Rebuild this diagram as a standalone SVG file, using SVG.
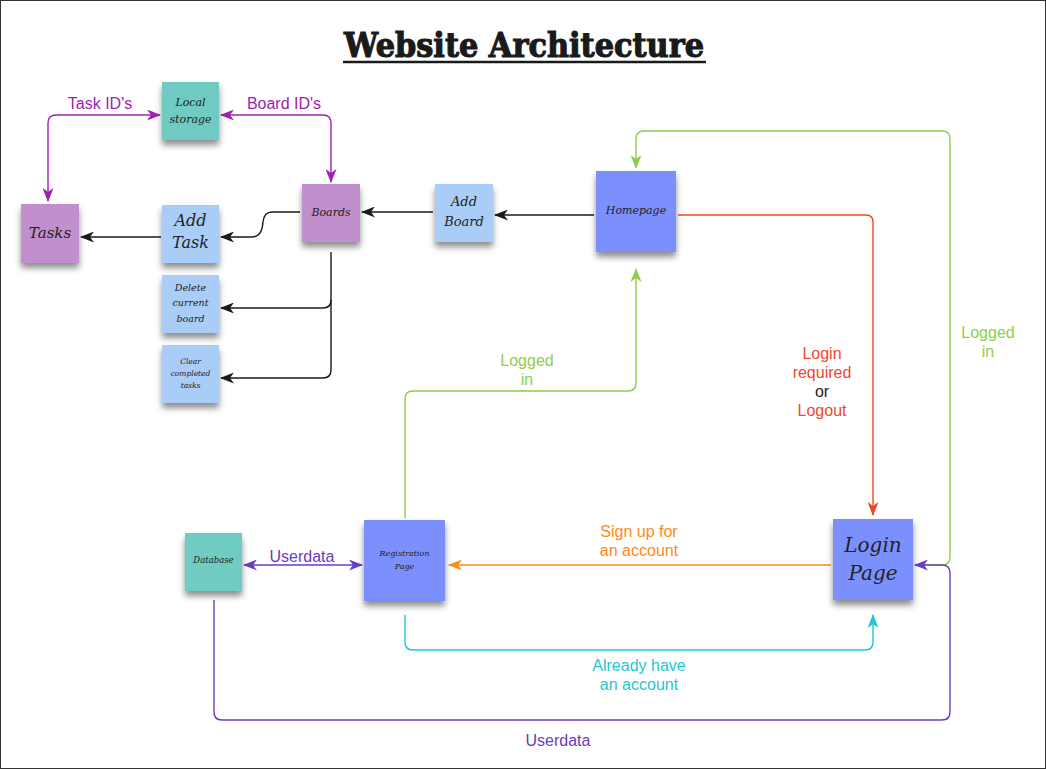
<svg xmlns="http://www.w3.org/2000/svg" width="1046" height="769" viewBox="0 0 1046 769">
<defs>
<filter id="sh" x="-20%" y="-20%" width="140%" height="150%">
<feDropShadow dx="0" dy="5" stdDeviation="3" flood-color="#000" flood-opacity="0.45"/>
</filter>
<marker id="aK" viewBox="0 0 14 11" refX="13" refY="5.5" markerWidth="14" markerHeight="11" markerUnits="userSpaceOnUse" orient="auto-start-reverse"><path d="M0,0 L14,5.5 L0,11 L4,5.5 Z" fill="#1a1a1a"/></marker>
<marker id="aP" viewBox="0 0 14 11" refX="13" refY="5.5" markerWidth="14" markerHeight="11" markerUnits="userSpaceOnUse" orient="auto-start-reverse"><path d="M0,0 L14,5.5 L0,11 L4,5.5 Z" fill="#a020b4"/></marker>
<marker id="aU" viewBox="0 0 14 11" refX="13" refY="5.5" markerWidth="14" markerHeight="11" markerUnits="userSpaceOnUse" orient="auto-start-reverse"><path d="M0,0 L14,5.5 L0,11 L4,5.5 Z" fill="#6a3cc0"/></marker>
<marker id="aG" viewBox="0 0 14 11" refX="13" refY="5.5" markerWidth="14" markerHeight="11" markerUnits="userSpaceOnUse" orient="auto-start-reverse"><path d="M0,0 L14,5.5 L0,11 L4,5.5 Z" fill="#8ccf4c"/></marker>
<marker id="aR" viewBox="0 0 14 11" refX="13" refY="5.5" markerWidth="14" markerHeight="11" markerUnits="userSpaceOnUse" orient="auto-start-reverse"><path d="M0,0 L14,5.5 L0,11 L4,5.5 Z" fill="#f0472b"/></marker>
<marker id="aO" viewBox="0 0 14 11" refX="13" refY="5.5" markerWidth="14" markerHeight="11" markerUnits="userSpaceOnUse" orient="auto-start-reverse"><path d="M0,0 L14,5.5 L0,11 L4,5.5 Z" fill="#ff8a16"/></marker>
<marker id="aC" viewBox="0 0 14 11" refX="13" refY="5.5" markerWidth="14" markerHeight="11" markerUnits="userSpaceOnUse" orient="auto-start-reverse"><path d="M0,0 L14,5.5 L0,11 L4,5.5 Z" fill="#24c6d4"/></marker>
</defs>
<style>
.note{filter:url(#sh)}
.teal{fill:#70cbc3}
.purp{fill:#c18fcb}
.lb{fill:#a9cdf6}
.blue{fill:#7b90fd}
.nt{font-family:"DejaVu Serif","Liberation Serif",serif;font-style:italic;fill:#222;text-anchor:middle}
.c{fill:none;stroke-width:1.4}
.lab{font-family:"Liberation Sans",Arial,sans-serif;font-size:16px;text-anchor:middle}
</style>
<rect x="0.5" y="0.5" width="1045" height="768" fill="#fff" stroke="#333" stroke-width="1"/>
<g id="title">
<text x="524" y="57" font-family="DejaVu Serif,Liberation Serif,serif" font-weight="900" font-size="34" fill="#1a1a1a" stroke="#1a1a1a" stroke-width="1.2" text-anchor="middle" textLength="360" lengthAdjust="spacingAndGlyphs">Website Architecture</text>
<line x1="343" y1="62" x2="706" y2="62" stroke="#1a1a1a" stroke-width="2.5"/>
</g>
<g id="connectors">
<path class="c" stroke="#a020b4" d="M160,115 H56 Q48,115 48,123 V201" marker-start="url(#aP)" marker-end="url(#aP)"/>
<path class="c" stroke="#a020b4" d="M221,115 H323 Q331,115 331,123 V182" marker-start="url(#aP)" marker-end="url(#aP)"/>
<path class="c" stroke="#1a1a1a" d="M300,212 H272 Q264,212 263,222 Q262,237 252,237 H221" marker-end="url(#aK)"/>
<path class="c" stroke="#1a1a1a" d="M161,237 H81" marker-end="url(#aK)"/>
<path class="c" stroke="#1a1a1a" d="M331,252 V300 Q331,308 323,308 H221" marker-end="url(#aK)"/>
<path class="c" stroke="#1a1a1a" d="M331,300 V370 Q331,378 323,378 H221" marker-end="url(#aK)"/>
<path class="c" stroke="#1a1a1a" d="M594,215 H495" marker-end="url(#aK)"/>
<path class="c" stroke="#1a1a1a" d="M433,212 H362" marker-end="url(#aK)"/>
<path class="c" stroke="#f0472b" d="M678,215 H866 Q873,215 873,222 V515" marker-end="url(#aR)"/>
<path class="c" stroke="#8ccf4c" d="M915,565 H942 Q950,565 950,557 V139 Q950,131 942,131 H644 Q636,131 636,139 V168" marker-end="url(#aG)"/>
<path class="c" stroke="#8ccf4c" d="M405,518 V399 Q405,391 413,391 H628 Q636,391 636,383 V269" marker-end="url(#aG)"/>
<path class="c" stroke="#ff8a16" d="M831,565 H449" marker-end="url(#aO)"/>
<path class="c" stroke="#24c6d4" d="M405,615 V642 Q405,650 413,650 H865 Q873,650 873,642 V615" marker-end="url(#aC)"/>
<path class="c" stroke="#6a3cc0" d="M244,565 H362" marker-start="url(#aU)" marker-end="url(#aU)"/>
<path class="c" stroke="#6a3cc0" d="M214,600 V712 Q214,720 222,720 H942 Q950,720 950,712 V573 Q950,565 942,565 H915" marker-end="url(#aU)"/>
<text class="lab" x="100" y="109" fill="#a020b4">Task ID's</text>
<text class="lab" x="284" y="109" fill="#a020b4">Board ID's</text>
<text class="lab" x="822" y="359" fill="#f0472b">Login</text>
<text class="lab" x="822" y="378" fill="#f0472b">required</text>
<text class="lab" x="822" y="397" fill="#222">or</text>
<text class="lab" x="822" y="416" fill="#f0472b">Logout</text>
<text class="lab" x="988" y="338" fill="#8ccf4c">Logged</text>
<text class="lab" x="988" y="357" fill="#8ccf4c">in</text>
<text class="lab" x="527" y="366" fill="#8ccf4c">Logged</text>
<text class="lab" x="527" y="385" fill="#8ccf4c">in</text>
<text class="lab" x="639" y="537" fill="#ff8a16">Sign up for</text>
<text class="lab" x="639" y="556" fill="#ff8a16">an account</text>
<text class="lab" x="639" y="671" fill="#24c6d4">Already have</text>
<text class="lab" x="639" y="690" fill="#24c6d4">an account</text>
<text class="lab" x="302" y="562" fill="#6a3cc0">Userdata</text>
<text class="lab" x="558" y="746" fill="#6a3cc0">Userdata</text>
</g>
<g id="local-storage"><rect class="note teal" x="162" y="82" width="57" height="58"/><text class="nt" x="190.5" y="106" font-size="11">Local</text><text class="nt" x="190.5" y="123" font-size="11">storage</text></g>
<g id="tasks"><rect class="note purp" x="21" y="204" width="58" height="59"/><text class="nt" x="50" y="238" font-size="15">Tasks</text></g>
<g id="add-task"><rect class="note lb" x="162" y="205" width="57" height="58"/><text class="nt" x="190.5" y="226" font-size="16">Add</text><text class="nt" x="190.5" y="248" font-size="16">Task</text></g>
<g id="boards"><rect class="note purp" x="302" y="184" width="58" height="58"/><text class="nt" x="331" y="216" font-size="11">Boards</text></g>
<g id="delete-board"><rect class="note lb" x="162" y="275" width="57" height="58"/><text class="nt" x="190.5" y="291" font-size="9.5">Delete</text><text class="nt" x="190.5" y="306" font-size="9.5">current</text><text class="nt" x="190.5" y="322" font-size="9.5">board</text></g>
<g id="clear-tasks"><rect class="note lb" x="162" y="345" width="57" height="58"/><text class="nt" x="190.5" y="364" font-size="7.5">Clear</text><text class="nt" x="190.5" y="376" font-size="7.5">completed</text><text class="nt" x="190.5" y="388" font-size="7.5">tasks</text></g>
<g id="add-board"><rect class="note lb" x="435" y="184" width="58" height="58"/><text class="nt" x="464" y="206" font-size="13">Add</text><text class="nt" x="464" y="226" font-size="13">Board</text></g>
<g id="homepage"><rect class="note blue" x="596" y="171" width="80" height="81"/><text class="nt" x="636" y="214" font-size="11">Homepage</text></g>
<g id="database"><rect class="note teal" x="185" y="533" width="57" height="58"/><text class="nt" x="213.5" y="563" font-size="8.5">Database</text></g>
<g id="registration"><rect class="note blue" x="364" y="520" width="81" height="81"/><text class="nt" x="404.5" y="556" font-size="8">Registration</text><text class="nt" x="404.5" y="569" font-size="8">Page</text></g>
<g id="login"><rect class="note blue" x="833" y="519" width="80" height="81"/><text class="nt" x="873" y="552" font-size="20">Login</text><text class="nt" x="873" y="580" font-size="20">Page</text></g>
</svg>
